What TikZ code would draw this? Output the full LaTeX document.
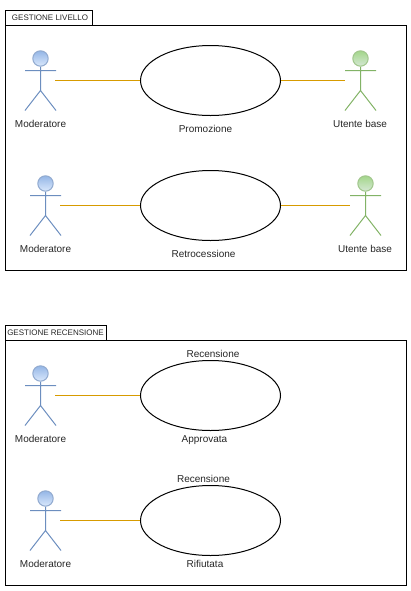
\documentclass[tikz,border=0pt]{standalone}
\usepackage{fontspec}
\setmainfont{Liberation Sans}
\usetikzlibrary{shapes.geometric}
\definecolor{bluetop}{HTML}{94B6E6}
\definecolor{bluelow}{HTML}{DAE8FC}
\definecolor{blueline}{HTML}{6C8EBF}
\definecolor{greentop}{HTML}{A3D68A}
\definecolor{greenlow}{HTML}{D5E8D4}
\definecolor{greenline}{HTML}{82B366}
\definecolor{linkorange}{HTML}{D79B00}
\tikzset{
  caption/.style={font=\fontsize{7.5bp}{9bp}\selectfont,inner sep=0pt,text=black!85,text height=5.4bp,text depth=0pt},
  tabcaption/.style={font=\fontsize{6bp}{7bp}\selectfont,inner sep=0pt,text=black!85},
  usecase/.style={draw,ellipse,minimum width=105bp,minimum height=52.5bp,inner sep=0pt,line width=0.75bp},
  frame/.style={draw,line width=0.75bp},
  link/.style={draw=linkorange,line width=0.75bp},
  pics/actor/.style n args={3}{code={
      \draw[#3,line width=0.75bp] (0,8) -- (0,32) (-15.5,12) -- (15.5,12)
        (-15.5,52) -- (0,32) -- (15.5,52);
      \draw[#3!75,top color=#1,bottom color=#2,line width=0.75bp] (0,0) circle (7.7);
  }},
}
\begin{document}
\begin{tikzpicture}[x=0.75bp,y=-0.75bp]
  \useasboundingbox (0,0) rectangle (411,591);
  % first frame
  \draw[frame] (5.5,25.5) rectangle (406.5,270.5);
  \draw[frame] (5.5,10.5) rectangle (92.5,25.5);
  \node[tabcaption] (tab1) at (50,18) {GESTIONE LIVELLO};
  % second frame
  \draw[frame] (5.5,340.5) rectangle (406.5,585.5);
  \draw[frame] (5.5,325.5) rectangle (106.5,340.5);
  \node[tabcaption] (tab2) at (55.5,333) {GESTIONE RECENSIONE};
  % use cases
  \node[usecase] (promo) at (210.5,80.5) {};
  \node[usecase] (retro) at (210.5,205.5) {};
  \node[usecase] (appr) at (210.5,395.5) {};
  \node[usecase] (rifiu) at (210.5,520.5) {};
  \node[caption] (lpromo) at (205.5,129) {Promozione};
  \node[caption] (lretro) at (203.5,254) {Retrocessione};
  \node[caption] (lrec1) at (213,354) {Recensione};
  \node[caption] (lappr) at (204.5,439) {Approvata};
  \node[caption] (lrec2) at (203.5,479) {Recensione};
  \node[caption] (lrifiu) at (205,564) {Rifiutata};
  % actors
  \pic at (40.5,58.5) {actor={bluetop}{bluelow}{blueline}};
  \pic at (45.5,183.5) {actor={bluetop}{bluelow}{blueline}};
  \pic at (40.5,373.5) {actor={bluetop}{bluelow}{blueline}};
  \pic at (45.5,498.5) {actor={bluetop}{bluelow}{blueline}};
  \pic at (360.5,58.5) {actor={greentop}{greenlow}{greenline}};
  \pic at (365.5,183.5) {actor={greentop}{greenlow}{greenline}};
  \node[caption] (mod1) at (40.5,124) {Moderatore};
  \node[caption] (mod2) at (45.5,249) {Moderatore};
  \node[caption] (mod3) at (40.5,439) {Moderatore};
  \node[caption] (mod4) at (45.5,564) {Moderatore};
  \node[caption] (ute1) at (360,124) {Utente base};
  \node[caption] (ute2) at (365,249) {Utente base};
  % link ends
  \coordinate (a1) at (55,80.5);
  \coordinate (a2) at (60,205.5);
  \coordinate (a3) at (55,395.5);
  \coordinate (a4) at (60,520.5);
  \coordinate (b1) at (345,80.5);
  \coordinate (b2) at (350,205.5);
  \draw[link] (a1) -- (promo.west);
  \draw[link] (a2) -- (retro.west);
  \draw[link] (a3) -- (appr.west);
  \draw[link] (a4) -- (rifiu.west);
  \draw[link] (promo.east) -- (b1);
  \draw[link] (retro.east) -- (b2);
\end{tikzpicture}
\end{document}
